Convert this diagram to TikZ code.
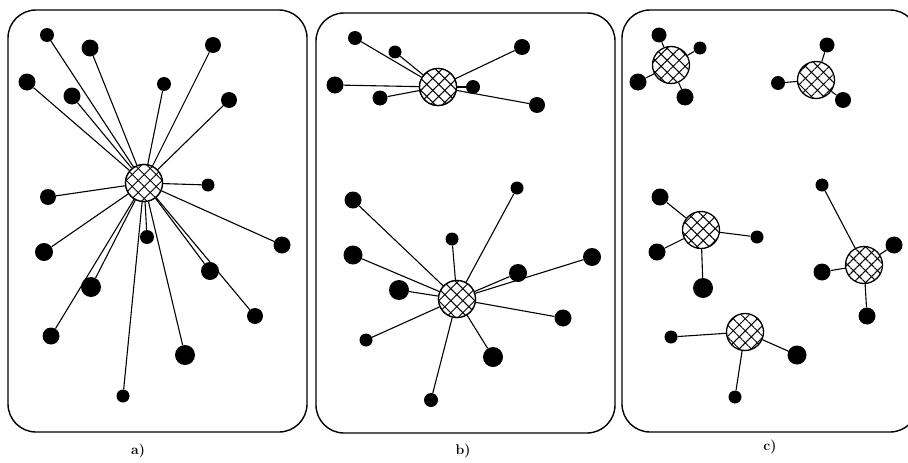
\documentclass[tikz,border=0pt]{standalone}
\usetikzlibrary{patterns.meta}
\tikzset{
  blob/.style={circle, fill=black, draw=none, inner sep=0pt, minimum size=#1},
  hub/.style={circle, draw=black, line width=1.3pt, fill=white, inner sep=0pt, minimum size=37pt,
    postaction={pattern={Lines[angle=45,distance=8.5pt,line width=1pt]}},
    postaction={pattern={Lines[angle=-45,distance=8.5pt,line width=1pt]}}},
  panel/.style={draw=black, line width=1.4pt, rounded corners=28pt},
  link/.style={draw=black, line width=1.1pt},
  lab/.style={font=\fontsize{14}{16}\selectfont\bfseries}
}
\begin{document}
\begin{tikzpicture}[x=1pt,y=-1pt]
\useasboundingbox (0,0) rectangle (908,463);
\clip (0,0) rectangle (908,463);
% panels
\draw[panel] (8,10) rectangle (307,432);
\draw[panel] (316,13) rectangle (615,433);
\draw[panel] (622,10) rectangle (918,432);
\node[lab] (la) at (138,451) {a)};
\node[lab] (lb) at (463,451) {b)};
\node[lab] (lc) at (770,447) {c)};

% ---------- panel a ----------
\node[hub] (A) at (144,183) {};
\foreach \n/\x/\y/\s in {a1/47/35/14pt, a2/90/48/17pt, a3/27/82/17pt, a4/72/96/17pt, a5/164/84/14pt,
  a6/213/45/16pt, a7/229/100/16pt, a8/48/197/16pt, a9/208/185/13pt, a10/44/252/18pt,
  a11/147/237/14pt, a12/91/287/20pt, a13/282/245/17pt, a14/210/271/18pt, a15/51/336/17pt,
  a16/255/316/16pt, a17/185/355/20pt, a18/123/396/13pt}
  {\node[blob=\s] (\n) at (\x,\y) {};}
\foreach \n in {a1,a2,a3,a4,a5,a6,a7,a8,a9,a10,a11,a12,a13,a14,a15,a16,a17,a18}
  {\draw[link] (\n) -- (A);}
\node[hub] at (A) {};

% ---------- panel b top ----------
\node[hub] (B1) at (438,87) {};
\foreach \n/\x/\y/\s in {b1/355/38/14pt, b2/395/52/13pt, b3/522/47/16pt, b4/335/85/17pt,
  b5/380/98/15pt, b6/473/87/14pt, b7/537/105/16pt}
  {\node[blob=\s] (\n) at (\x,\y) {};}
\foreach \n in {b1,b2,b3,b4,b5,b6,b7}
  {\draw[link] (\n) -- (B1);}
\node[hub] at (B1) {};

% ---------- panel b bottom ----------
\node[hub] (B2) at (457,299) {};
\foreach \n/\x/\y/\s in {c1/353/200/17pt, c2/517/188/13pt, c3/452/239/13pt, c4/353/255/19pt,
  c5/592/257/18pt, c6/518/273/18pt, c7/399/290/20pt, c8/563/318/17pt, c9/366/340/13pt,
  c10/493/357/20pt, c11/431/400/14pt}
  {\node[blob=\s] (\n) at (\x,\y) {};}
\foreach \n in {c1,c2,c3,c4,c5,c6,c7,c8,c9,c10,c11}
  {\draw[link] (\n) -- (B2);}
\node[hub] at (B2) {};

% ---------- panel c ----------
\node[hub] (C1) at (671,65) {};
\node[hub] (C2) at (816,80) {};
\node[hub] (C3) at (701,230) {};
\node[hub] (C4) at (864,265) {};
\node[hub] (C5) at (745,332) {};
\foreach \n/\x/\y/\s in {d1/659/35/15pt, d2/700/48/13pt, d3/638/82/17pt, d4/685/97/17pt,
  e1/827/45/15pt, e2/778/83/14pt, e3/843/100/16pt,
  f1/660/197/17pt, f2/757/237/13pt, f3/657/252/17pt, f4/703/288/20pt,
  g1/822/185/13pt, g2/894/245/17pt, g3/822/272/17pt, g4/867/316/17pt,
  h1/671/337/13pt, h2/797/355/19pt, h3/735/397/13pt}
  {\node[blob=\s] (\n) at (\x,\y) {};}
\foreach \n in {d1,d2,d3,d4} {\draw[link] (\n) -- (C1);}
\foreach \n in {e1,e2,e3} {\draw[link] (\n) -- (C2);}
\foreach \n in {f1,f2,f3,f4} {\draw[link] (\n) -- (C3);}
\foreach \n in {g1,g2,g3,g4} {\draw[link] (\n) -- (C4);}
\foreach \n in {h1,h2,h3} {\draw[link] (\n) -- (C5);}
\end{tikzpicture}
\end{document}
